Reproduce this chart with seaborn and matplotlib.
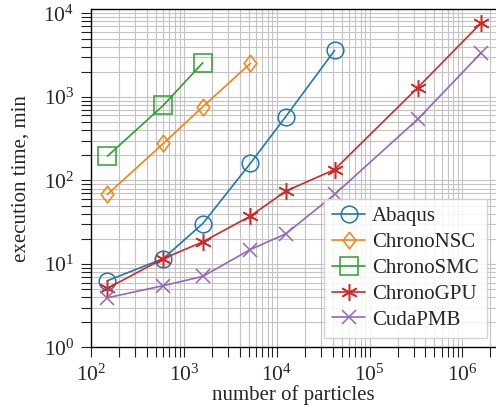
import matplotlib
matplotlib.use("Agg")
import matplotlib.pyplot as plt
import seaborn as sns

# number of particles used in the runs
particles = [150, 600, 1600, 5200, 12500, 42000, 330000, 1600000]

# execution time in minutes for each code
abaqus = [6.3, 11.6, 30.5, 160, 580, 3600]
chrono_nsc = [68, 277, 763, 2520]
chrono_smc = [195, 791, 2570]
chrono_gpu = [5.1, 11.6, 18.4, 37.4, 74.5, 135, 1290, 7740]
cuda_pmb = [3.94, 5.5, 7.1, 14.9, 22.9, 68, 540, 3380]

names = ['Abaqus', 'ChronoNSC', 'ChronoSMC', 'ChronoGPU', 'CudaPMB']
series = [abaqus, chrono_nsc, chrono_smc, chrono_gpu, cuda_pmb]

sns.set_style("white")
plt.rcParams['font.family'] = ['Liberation Serif', 'DejaVu Serif']
plt.rcParams['mathtext.fontset'] = 'custom'
plt.rcParams['mathtext.rm'] = 'Liberation Serif'
plt.rcParams['mathtext.it'] = 'Liberation Serif:italic'

colors = sns.color_palette("tab10")
thin_diamond = [(0, 1), (0.76, 0), (0, -1), (-0.76, 0), (0, 1)]
markers = ['o', thin_diamond, 's', (6, 2, 0), 'x']
sizes = [12, 12, 12.5, 12, 10]

fig = plt.figure(figsize=(4.96, 4.07), dpi=100)
ax = fig.add_axes([0.1835, 0.1462, 0.8165, 0.831])
ax.set_xscale('log')
ax.set_yscale('log')

for i in range(len(names)):
    y = series[i]
    sns.lineplot(x=particles[:len(y)], y=y, ax=ax, color=colors[i],
                 marker=markers[i], markersize=sizes[i], mfc='none',
                 mec=colors[i], mew=1.1, lw=1.2, label=names[i])

ax.set_xlim(100, 2.3e6)
ax.set_ylim(1, 1.12e4)
ax.grid(True, which='both', color='#c4c4c4', lw=0.8)
ax.set_axisbelow(True)

for s in ['left', 'bottom', 'top']:
    ax.spines[s].set_color('black')
    ax.spines[s].set_linewidth(1.0)
ax.spines['right'].set_visible(False)

ax.tick_params(which='both', direction='out', length=7, width=0.8,
               color='#222222', labelsize=15.5, pad=5, top=False, right=False,
               left=True, bottom=True)

ax.set_xlabel('number of particles', fontsize=15, labelpad=0)
ax.set_ylabel('execution time, min', fontsize=15, labelpad=9)

ax.legend(loc='lower right', fontsize=15, fancybox=False, edgecolor='#cccccc',
          framealpha=0.85, handlelength=1.6, handletextpad=0.3,
          labelspacing=0.3, borderpad=0.4, borderaxespad=0.45)

fig.savefig('out.png', dpi=100)
